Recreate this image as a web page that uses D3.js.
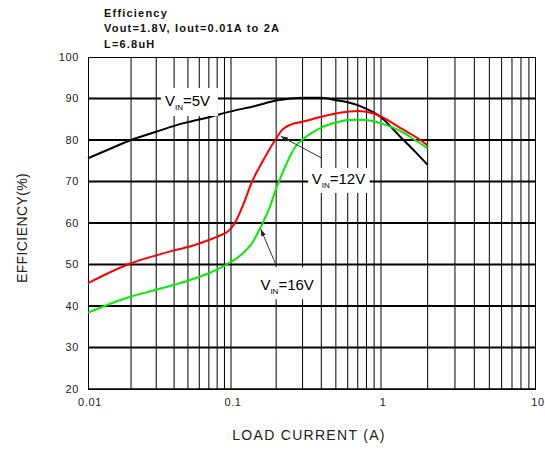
<!DOCTYPE html>
<html>
<head>
<meta charset="utf-8">
<script src="https://cdn.jsdelivr.net/npm/d3@7"></script>
<style>
  html, body { margin: 0; padding: 0; background: #fff; }
  svg { display: block; font-family: "Liberation Sans", Arial, sans-serif; }
</style>
</head>
<body>
<svg id="chart" width="545" height="451"></svg>
<script>
// Efficiency vs load current, Vout = 1.8 V, L = 6.8 uH
const titleLines = ["Efficiency", "Vout=1.8V, Iout=0.01A to 2A", "L=6.8uH"];

const xTickValues = [0.01, 0.1, 1, 10];
const xTickLabels = ["0.01", "0.1", "1", "10"];
const yTickValues = [20, 30, 40, 50, 60, 70, 80, 90, 100];

// VIN = 5 V
const vin5Current = [0.01, 0.015, 0.02, 0.03, 0.04, 0.05, 0.07, 0.1, 0.145, 0.2, 0.25, 0.3, 0.4, 0.5, 0.6, 0.7, 0.8, 1.0, 1.33, 1.66, 2.0];
const vin5Eff     = [75.6, 78.2, 80.0, 82.0, 83.4, 84.3, 85.5, 86.9, 88.2, 89.5, 90.0, 90.2, 90.2, 89.6, 89.1, 88.4, 87.5, 85.5, 80.8, 77.2, 74.0];

// VIN = 12 V
const vin12Current = [0.01, 0.02, 0.03, 0.04, 0.05, 0.07, 0.08, 0.1, 0.106, 0.12, 0.1383, 0.16, 0.197, 0.22, 0.25, 0.3, 0.4, 0.5, 0.6, 0.7, 0.8, 1.0, 1.33, 1.66, 2.0];
const vin12Eff     = [45.5, 50.3, 52.2, 53.4, 54.2, 55.9, 56.7, 58.7, 60.0, 64.2, 70.0, 74.4, 80.0, 82.5, 83.7, 84.4, 85.6, 86.4, 86.8, 87.0, 86.8, 85.7, 82.9, 80.8, 78.7];

// VIN = 16 V
const vin16Current = [0.01, 0.02, 0.03, 0.04, 0.05, 0.07, 0.1, 0.12, 0.14, 0.16, 0.18, 0.2, 0.22, 0.25, 0.27, 0.3, 0.4, 0.5, 0.6, 0.7, 0.8, 1.0, 1.33, 1.66, 2.0];
const vin16Eff     = [38.4, 42.3, 43.9, 45.1, 46.1, 47.9, 50.6, 52.7, 55.5, 59.5, 63.5, 68.3, 72.0, 76.4, 78.5, 80.1, 83.0, 84.2, 84.8, 84.9, 84.8, 84.0, 82.2, 80.0, 78.0];

const seriesList = [
  { name: "5V",  current: vin5Current,  eff: vin5Eff,  color: "#000000" },
  { name: "12V", current: vin12Current, eff: vin12Eff, color: "#ff0000" },
  { name: "16V", current: vin16Current, eff: vin16Eff, color: "#00f000" }
];

// Callouts: label anchor (current, efficiency), white backing box, optional arrow from -> to
const callouts = [
  { volts: "5V",  at: [0.0345, 88.2], box: [-4, -18, 57, 28] },
  { volts: "12V", at: [0.345, 69.3],  box: [-3.5, -16.5, 61.5, 25], from: [0.40, 75.7], to: [0.215, 80.9] },
  { volts: "16V", at: [0.157, 43.8],  box: [-6, -23, 61, 32], from: [0.198, 50.2], to: [0.158, 58.5] }
];

(function draw() {
  const svg = d3.select("#chart");
  const pLeft = 88, pRight = 536, pTop = 57, pBottom = 389;

  const x = d3.scaleLog().domain([0.01, 0.1, 1, 10]).range([pLeft, 231, 381, pRight]);
  const y = d3.scaleLinear().domain([20, 100]).range([pBottom, pTop]);

  // Vertical grid: every 1..9 step of each decade
  const vGrid = [];
  [0.01, 0.1, 1].forEach(d => { for (let k = 2; k <= 10; k++) vGrid.push(d * k); });
  svg.append("g").selectAll("line").data(vGrid.filter(v => v < 9.99)).join("line")
    .attr("x1", d => x(d)).attr("x2", d => x(d))
    .attr("y1", pTop).attr("y2", pBottom)
    .attr("stroke", "#000").attr("stroke-width", 1);

  // Horizontal grid
  svg.append("g").selectAll("line").data(yTickValues.filter(v => v > 20 && v < 100)).join("line")
    .attr("x1", pLeft).attr("x2", pRight)
    .attr("y1", d => y(d)).attr("y2", d => y(d))
    .attr("stroke", "#000").attr("stroke-width", 2);

  // Frame
  svg.append("rect")
    .attr("x", pLeft + 0.5).attr("y", pTop + 0.5)
    .attr("width", pRight - pLeft - 1).attr("height", pBottom - pTop)
    .attr("fill", "none").attr("stroke", "#000").attr("stroke-width", 1);
  svg.append("line").attr("x1", pLeft).attr("x2", pRight)
    .attr("y1", y(20)).attr("y2", y(20)).attr("stroke", "#000").attr("stroke-width", 1.5);

  // Curves
  const line = d3.line()
    .x(d => x(d[0])).y(d => y(d[1]))
    .curve(d3.curveMonotoneX);
  svg.append("g").selectAll("path").data(seriesList).join("path")
    .attr("d", s => line(s.current.map((c, i) => [c, s.eff[i]])))
    .attr("fill", "none")
    .attr("stroke", s => s.color)
    .attr("stroke-width", 2)
    .attr("stroke-linejoin", "round");

  // Arrowhead marker
  svg.append("defs").append("marker")
    .attr("id", "arrow").attr("viewBox", "0 0 10 10")
    .attr("refX", 10).attr("refY", 5)
    .attr("markerWidth", 7).attr("markerHeight", 7)
    .attr("orient", "auto")
    .append("path").attr("d", "M0,1.5 L10,5 L0,8.5 Z").attr("fill", "#222");

  // Callout labels
  const cg = svg.append("g");
  callouts.forEach(c => {
    const px = x(c.at[0]), py = y(c.at[1]);
    cg.append("rect")
      .attr("x", px + c.box[0]).attr("y", py + c.box[1])
      .attr("width", c.box[2]).attr("height", c.box[3])
      .attr("fill", "#fff");
    if (c.from) {
      cg.append("line")
        .attr("x1", x(c.from[0])).attr("y1", y(c.from[1]))
        .attr("x2", x(c.to[0])).attr("y2", y(c.to[1]))
        .attr("stroke", "#333").attr("stroke-width", 1)
        .attr("marker-end", "url(#arrow)");
    }
    const t = cg.append("text").attr("x", px).attr("y", py)
      .attr("font-size", 15).attr("fill", "#000");
    t.append("tspan").text("V");
    t.append("tspan").attr("font-size", 8).attr("dy", 4).text("IN");
    t.append("tspan").attr("dy", -4).text("=" + c.volts);
  });

  // Tick labels
  svg.append("g").selectAll("text").data(yTickValues).join("text")
    .attr("x", 79).attr("y", d => y(d)).attr("dy", "0.36em")
    .attr("text-anchor", "end").attr("font-size", 11)
    .attr("letter-spacing", 0.6).attr("fill", "#222")
    .text(d => d);
  svg.append("g").selectAll("text").data(xTickValues).join("text")
    .attr("x", d => x(d) + 2).attr("y", 406)
    .attr("text-anchor", "middle").attr("font-size", 11)
    .attr("letter-spacing", 0.6).attr("fill", "#222")
    .text((d, i) => xTickLabels[i]);

  // Axis titles
  svg.append("text")
    .attr("x", 309).attr("y", 440)
    .attr("text-anchor", "middle").attr("font-size", 14)
    .attr("letter-spacing", 1.3).attr("fill", "#222")
    .text("LOAD CURRENT (A)");
  svg.append("text")
    .attr("transform", "translate(27,228) rotate(-90)")
    .attr("text-anchor", "middle").attr("font-size", 14)
    .attr("letter-spacing", 0.4).attr("fill", "#222")
    .text("EFFICIENCY(%)");

  // Title block
  svg.append("g").selectAll("text").data(titleLines).join("text")
    .attr("x", 104).attr("y", (d, i) => 16.5 + i * 15.5)
    .attr("font-size", 11).attr("font-weight", "bold")
    .attr("letter-spacing", 1.2).attr("fill", "#111")
    .text(d => d);
})();
</script>
</body>
</html>
